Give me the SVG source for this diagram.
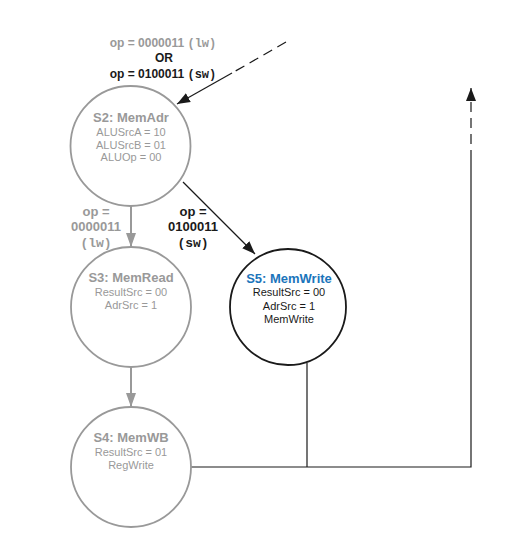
<svg xmlns="http://www.w3.org/2000/svg" width="513" height="542" viewBox="0 0 513 542">
<defs>
<style>
.bg{fill:#ffffff}
.state{fill:#ffffff;stroke-width:1.8}
.gray{stroke:#999999}
.black{stroke:#1a1a1a}
.title{font-family:"Liberation Sans",Arial,sans-serif;font-weight:bold;font-size:13px;text-anchor:middle}
.body{font-family:"Liberation Sans",Arial,sans-serif;font-size:11px;text-anchor:middle}
.lbl{font-family:"Liberation Sans",Arial,sans-serif;font-weight:bold;font-size:12px;text-anchor:middle}
.slbl{font-family:"Liberation Sans",Arial,sans-serif;font-weight:bold;font-size:13px;text-anchor:middle}
.mono{font-family:"Liberation Mono","Courier New",monospace;font-weight:bold}
.gt{fill:#999999}
.bt{fill:#1a1a1a}
.blue{fill:#1b75bb}
.wire{fill:none;stroke:#1a1a1a;stroke-width:1.2}
.gwire{fill:none;stroke:#999999;stroke-width:2}
.dash{stroke-dasharray:10,6}
</style>
<marker id="ab" markerUnits="userSpaceOnUse" markerWidth="14" markerHeight="12" refX="13" refY="5" orient="auto" viewBox="0 0 14 10">
<path d="M0,0 L13,5 L0,10 Z" fill="#1a1a1a" stroke="none"/>
</marker>
<marker id="ag" markerUnits="userSpaceOnUse" markerWidth="14" markerHeight="12" refX="14" refY="5" orient="auto" viewBox="0 0 14 10">
<path d="M0,0 L14,5 L0,10 Z" fill="#999999" stroke="none"/>
</marker>
</defs>
<rect class="bg" x="0" y="0" width="513" height="542"/>

<g id="connectors">
<path class="wire dash" d="M286,42 L232,73"/>
<path class="wire" d="M232,73 L177,104" marker-end="url(#ab)"/>
<path class="gwire" d="M131,206 L131,247" marker-end="url(#ag)"/>
<path class="wire" d="M183,182 L255,254" marker-end="url(#ab)"/>
<path class="gwire" d="M131,367 L131,407" marker-end="url(#ag)"/>
<path class="wire" d="M191,467 L471,467 L471,160"/>
<path class="wire" d="M307,363 L307,467"/>
<path class="wire dash" d="M471,160 L471,88" marker-end="url(#ab)"/>
</g>

<g id="labels">
<text class="lbl gt" x="163" y="47">op = 0000011 <tspan class="mono">(lw)</tspan></text>
<text class="lbl bt" x="164" y="62">OR</text>
<text class="lbl bt" x="163" y="78">op = 0100011 <tspan class="mono">(sw)</tspan></text>
<text class="slbl gt" x="96" y="216">op =</text>
<text class="slbl gt" x="96" y="231">0000011</text>
<text class="slbl gt mono" x="96" y="247">(lw)</text>
<text class="slbl bt" x="193" y="216">op =</text>
<text class="slbl bt" x="193" y="231">0100011</text>
<text class="slbl bt mono" x="193" y="247">(sw)</text>
</g>

<g id="S2">
<circle class="state gray" cx="130.5" cy="146" r="60"/>
<text class="title gt" x="131" y="122">S2: MemAdr</text>
<text class="body gt" x="131" y="136">ALUSrcA = 10</text>
<text class="body gt" x="131" y="148.5">ALUSrcB = 01</text>
<text class="body gt" x="131" y="161">ALUOp = 00</text>
</g>

<g id="S3">
<circle class="state gray" cx="131" cy="307" r="60"/>
<text class="title gt" x="131" y="282">S3: MemRead</text>
<text class="body gt" x="131" y="296">ResultSrc = 00</text>
<text class="body gt" x="131" y="309">AdrSrc = 1</text>
</g>

<g id="S5">
<circle class="state black" cx="288" cy="307" r="58"/>
<text class="title blue" x="289" y="283">S5: MemWrite</text>
<text class="body bt" x="289" y="296">ResultSrc = 00</text>
<text class="body bt" x="289" y="310">AdrSrc = 1</text>
<text class="body bt" x="289" y="323">MemWrite</text>
</g>

<g id="S4">
<circle class="state gray" cx="131" cy="467" r="60"/>
<text class="title gt" x="131" y="442">S4: MemWB</text>
<text class="body gt" x="131" y="456">ResultSrc = 01</text>
<text class="body gt" x="131" y="469">RegWrite</text>
</g>
</svg>
